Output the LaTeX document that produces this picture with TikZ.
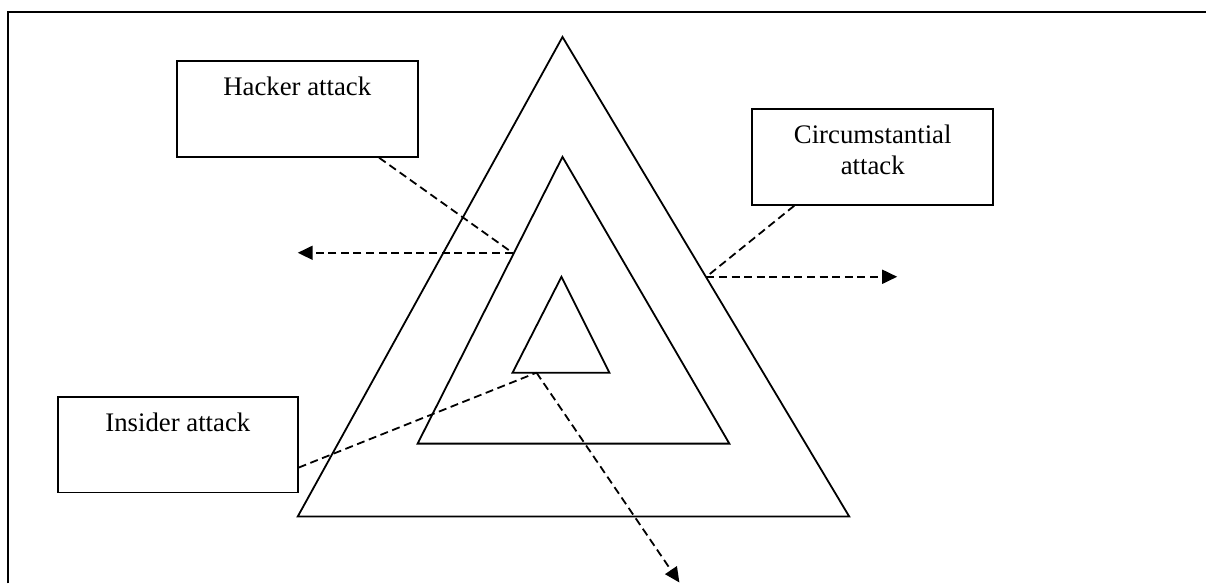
\documentclass[tikz,border=0pt]{standalone}
\usepackage{fontspec}
\setmainfont{Liberation Serif}
\usetikzlibrary{arrows.meta,positioning}

\tikzset{
	attackbox/.style={draw,line width=0.9pt,minimum width=120.5pt,minimum height=48pt,inner sep=0pt},
	attacktext/.style={anchor=north,inner sep=0pt,align=center,font=\fontsize{13.4}{15.5}\selectfont},
	attackline/.style={line width=0.9pt,dash pattern=on 4pt off 2.3pt},
	attackarrow/.style={attackline,-{Triangle[length=7.5pt,width=7pt]}}
}

\begin{document}
\begin{tikzpicture}[x=0.5pt,y=-0.5pt,line join=miter]
		\fill[white] (0,0) rectangle (1207,584);
		\draw[line width=1.1pt] (8,584) -- (8,12) -- (1207,12);
		
		% triangles
		\draw[line width=0.9pt] (563,37) -- (850,517) -- (298,517) -- cycle;
		\draw[line width=0.9pt] (563,157) -- (730,444) -- (418,444) -- cycle;
		\draw[line width=0.9pt] (562,277) -- (610,373) -- (513,373) -- cycle;
		
		\node[attackbox] (hacker) at (297.5,109) {};
		\node[attacktext,below=8.4pt of hacker.north] (hackertext) {Hacker attack};
		
		\node[attackbox] (circ) at (873.5,157) {};
		\node[attacktext,below=8.2pt of circ.north] (circtext) {Circumstantial\\attack};
		
		\node[attackbox,minimum width=120pt] (insider) at (178,445) {};
		\node[attacktext,below=8.4pt of insider.north] (insidertext) {Insider attack};
		
		\coordinate (hackhit) at (513,253);
		\coordinate (hackend) at (298,253);
		\draw[attackline] ([xshift=41pt]hacker.south) -- (hackhit);
		\draw[attackarrow] (hackhit) -- (hackend);
		
		\coordinate (circhit) at (707,277);
		\coordinate (circend) at (898,277);
		\draw[attackline] ([xshift=-39.25pt]circ.south) -- (circhit);
		\draw[attackarrow] (circhit) -- (circend);
		
		\coordinate (inshit) at (537,373);
		\coordinate (insend) at (680,583);
		\draw[attackline] ([yshift=-11.5pt]insider.east) -- (inshit);
		\draw[attackarrow] (inshit) -- (insend);
\end{tikzpicture}
\end{document}
